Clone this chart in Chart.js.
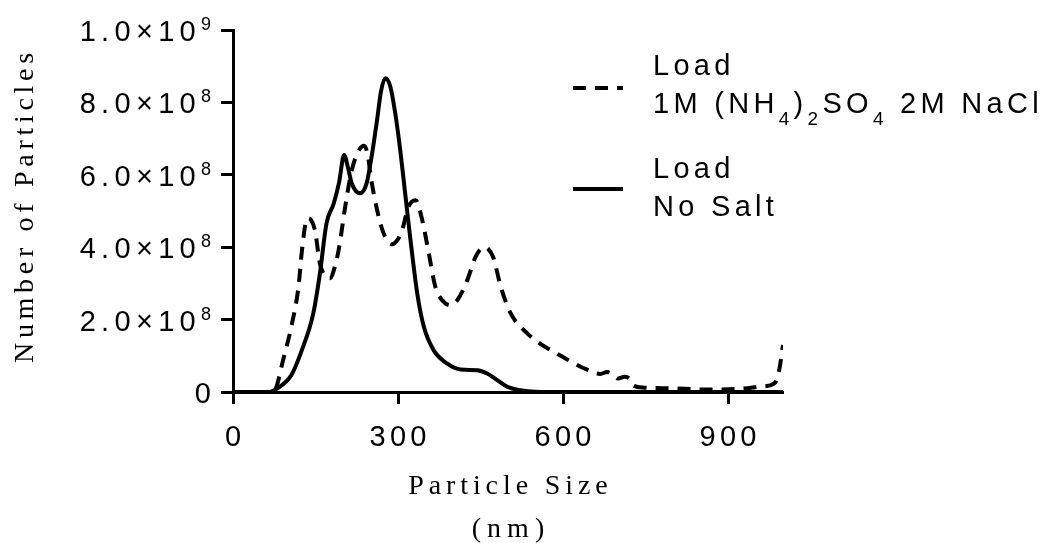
<!DOCTYPE html>
<html>
<head>
<meta charset="utf-8">
<script src="https://cdn.jsdelivr.net/npm/chart.js@4.4.1/dist/chart.umd.min.js"></script>
<style>
  html, body { margin: 0; padding: 0; background: #fff; }
</style>
</head>
<body>
<canvas id="sizeChart" width="1053" height="543"></canvas>
<script>
// Particle size distribution (nm) for the two loads
const saltSize = [0, 70, 78, 91, 106, 119, 126, 135, 142, 149,
    158, 167, 176, 185, 193, 204, 216, 228, 238, 245,
    251, 262, 274, 289, 299, 308, 319, 332, 344, 356,
    368, 380, 395, 408, 426, 441, 456, 464, 473, 487,
    505, 535, 562, 596, 639, 668, 680, 690, 700, 712,
    722, 728, 748, 800, 860, 925, 960, 985, 993, 1000];
const saltCount = [0, 0, 0.1e8, 0.88e8, 1.8e8, 2.9e8, 4.0e8, 4.8e8, 4.75e8, 4.47e8,
    3.55e8, 3.22e8, 3.14e8, 3.45e8, 4.0e8, 5.12e8, 6.13e8, 6.65e8, 6.8e8, 6.55e8,
    5.9e8, 5.03e8, 4.38e8, 4.08e8, 4.2e8, 4.5e8, 5.12e8, 5.3e8, 4.75e8, 3.83e8,
    2.9e8, 2.54e8, 2.4e8, 2.54e8, 3.09e8, 3.73e8, 4.0e8, 3.95e8, 3.73e8, 2.9e8,
    2.17e8, 1.62e8, 1.3e8, 1.0e8, 0.65e8, 0.5e8, 0.55e8, 0.48e8, 0.37e8, 0.42e8,
    0.35e8, 0.18e8, 0.12e8, 0.1e8, 0.07e8, 0.09e8, 0.15e8, 0.25e8, 0.6e8, 1.3e8];

const noSaltSize = [0, 65, 75, 90, 106, 125, 146, 158, 170, 183,
    193, 202, 209, 216, 231, 243, 252, 262, 269, 277,
    286, 295, 304, 313, 322, 335, 347, 365, 389, 414,
    444, 462, 481, 499, 523, 550, 600, 1000];
const noSaltCount = [0, 0, 0.05e8, 0.2e8, 0.46e8, 1.15e8, 2.17e8, 3.27e8, 4.66e8, 5.2e8,
    5.8e8, 6.55e8, 6.2e8, 5.76e8, 5.49e8, 5.77e8, 6.5e8, 7.52e8, 8.3e8, 8.67e8,
    8.44e8, 7.7e8, 6.69e8, 5.49e8, 4.29e8, 2.72e8, 1.8e8, 1.15e8, 0.79e8, 0.62e8,
    0.6e8, 0.51e8, 0.32e8, 0.14e8, 0.05e8, 0.01e8, 0, 0];

const xTicks = [0, 300, 600, 900];
const yTicks = [0, 2e8, 4e8, 6e8, 8e8, 1e9];

// legend text, [text, subscript?] runs per line
const saltLegend = [[['Load', false]],
    [['1M (NH', false], ['4', true], [')', false], ['2', true], ['SO', false], ['4', true], [' 2M NaCl', false]]];
const noSaltLegend = [[['Load', false]], [['No Salt', false]]];

const sans = '"Liberation Sans", Arial, sans-serif';
const serif = '"Liberation Serif", "Times New Roman", serif';
const tickFont = '29px ' + sans;
const tickGap = 4.3;

function toPoints(xs, ys) {
    return xs.map((x, i) => ({ x: x, y: ys[i] }));
}

// text with extra letter spacing, drawn glyph by glyph
function spacedWidth(ctx, str, gap) {
    let w = 0;
    for (const ch of str) w += ctx.measureText(ch).width + gap;
    return str.length ? w - gap : 0;
}
function drawSpaced(ctx, str, x, y, gap) {
    for (const ch of str) {
        ctx.fillText(ch, x, y);
        x += ctx.measureText(ch).width + gap;
    }
    return x;
}
function runsWidth(ctx, runs) {
    let w = 0;
    runs.forEach((r, i) => {
        ctx.font = r.font;
        w += spacedWidth(ctx, r.text, r.gap);
        if (i < runs.length - 1) w += r.gap;
    });
    return w;
}
function drawRuns(ctx, runs, x, y) {
    runs.forEach(r => {
        ctx.font = r.font;
        x = drawSpaced(ctx, r.text, x, y + (r.dy || 0), r.gap);
    });
}

const textPlugin = {
    id: 'textPlugin',
    afterDraw(chart) {
        const ctx = chart.ctx;
        const xs = chart.scales.x, ys = chart.scales.y;
        const area = chart.chartArea;
        ctx.save();
        ctx.fillStyle = '#000';
        ctx.textBaseline = 'alphabetic';
        ctx.textAlign = 'left';

        // y tick labels as a.b x 10^n
        yTicks.forEach(v => {
            const py = ys.getPixelForValue(v);
            let runs;
            if (v === 0) {
                runs = [{ text: '0', font: tickFont, gap: tickGap, dy: 11 }];
            } else {
                const exp = Math.floor(Math.log10(v));
                const mant = (v / Math.pow(10, exp)).toFixed(1);
                runs = [{ text: mant + '\u00d710', font: tickFont, gap: tickGap + 1, dy: 11 },
                        { text: String(exp), font: '18px ' + sans, gap: 0, dy: 0 }];
            }
            drawRuns(ctx, runs, 211 - runsWidth(ctx, runs), py);
        });

        // x tick labels
        xTicks.forEach(v => {
            const px = xs.getPixelForValue(v);
            const runs = [{ text: String(v), font: tickFont, gap: tickGap }];
            drawRuns(ctx, runs, px - runsWidth(ctx, runs) / 2, 446);
        });

        // axis titles
        const cx = (area.left + area.right) / 2;
        let runs = [{ text: 'Particle Size', font: '28px ' + serif, gap: 4.9 }];
        drawRuns(ctx, runs, cx - runsWidth(ctx, runs) / 2, 494);
        runs = [{ text: '(nm)', font: '28px ' + serif, gap: 6 }];
        drawRuns(ctx, runs, cx - runsWidth(ctx, runs) / 2, 537);

        ctx.save();
        ctx.translate(33, 208);
        ctx.rotate(-Math.PI / 2);
        runs = [{ text: 'Number of Particles', font: '28px ' + serif, gap: 4.7 }];
        drawRuns(ctx, runs, -runsWidth(ctx, runs) / 2, 0);
        ctx.restore();

        // legend
        const entries = [
            { ds: chart.data.datasets[0], lines: saltLegend, lineY: 88, base: [75, 113] },
            { ds: chart.data.datasets[1], lines: noSaltLegend, lineY: 189, base: [178, 216] }
        ];
        entries.forEach(e => {
            ctx.save();
            ctx.strokeStyle = e.ds.borderColor;
            ctx.lineWidth = e.ds.borderWidth;
            ctx.setLineDash(e.ds.borderDash || []);
            ctx.beginPath();
            ctx.moveTo(573, e.lineY);
            ctx.lineTo(623, e.lineY);
            ctx.stroke();
            ctx.restore();
            e.lines.forEach((line, i) => {
                const r = line.map(([t, sub]) => sub
                    ? { text: t, font: '19px ' + sans, gap: 4.3, dy: 12 }
                    : { text: t, font: '29px ' + sans, gap: 4.3, dy: 0 });
                drawRuns(ctx, r, 653, e.base[i]);
            });
        });
        ctx.restore();
    }
};

const axisStyle = {
    grid: { drawOnChartArea: false, drawTicks: true, tickLength: 12, tickWidth: 3, color: '#000' },
    border: { display: true, color: '#000', width: 3 },
    ticks: { display: false }
};

new Chart(document.getElementById('sizeChart'), {
    type: 'line',
    data: {
        datasets: [{
            label: 'Load 1M (NH4)2SO4 2M NaCl',
            data: toPoints(saltSize, saltCount),
            borderColor: '#000',
            borderWidth: 4,
            borderDash: [13, 9],
            fill: false
        }, {
            label: 'Load No Salt',
            data: toPoints(noSaltSize, noSaltCount),
            borderColor: '#000',
            borderWidth: 4,
            fill: false
        }]
    },
    options: {
        responsive: false,
        animation: false,
        layout: { padding: { left: 221, right: 270, top: 30, bottom: 139 } },
        elements: {
            point: { radius: 0 },
            line: { cubicInterpolationMode: 'monotone' }
        },
        plugins: {
            legend: { display: false },
            tooltip: { enabled: false }
        },
        scales: {
            x: Object.assign({
                type: 'linear', min: 0, max: 1000,
                afterBuildTicks: s => { s.ticks = xTicks.map(v => ({ value: v })); },
                afterFit: s => { s.height = 12; }
            }, axisStyle),
            y: Object.assign({
                type: 'linear', min: 0, max: 1e9,
                afterBuildTicks: s => { s.ticks = yTicks.map(v => ({ value: v })); },
                afterFit: s => { s.width = 12; }
            }, axisStyle)
        }
    },
    plugins: [textPlugin]
});
</script>
</body>
</html>
